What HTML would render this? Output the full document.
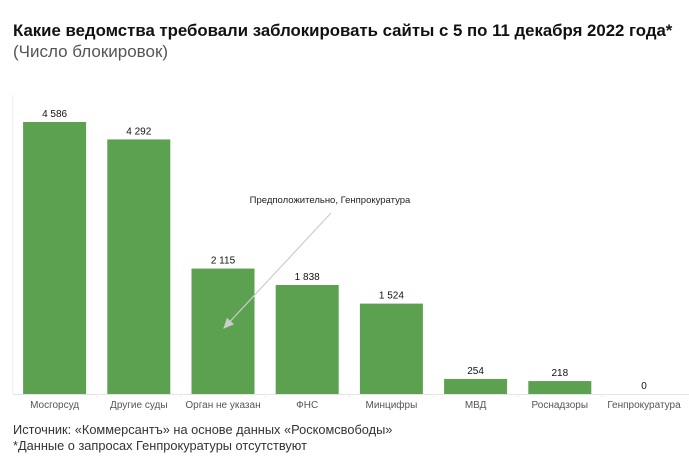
<!DOCTYPE html>
<html><head><meta charset="utf-8"><style>
body{margin:0;width:689px;height:462px;background:#fff;font-family:"Liberation Sans",sans-serif;overflow:hidden;position:relative}
.t{position:absolute;left:13px;white-space:nowrap}
</style></head><body>
<div class="t" style="top:21px;font-size:16.8px;font-weight:bold;color:#111">Какие ведомства требовали заблокировать сайты с 5 по 11 декабря 2022 года*</div>
<div class="t" style="top:42px;font-size:17px;color:#555">(Число блокировок)</div>
<svg id="c" width="689" height="462" style="position:absolute;left:0;top:0">
<defs><marker id="ah" markerWidth="10" markerHeight="10" refX="8" refY="5" orient="auto"><path d="M0,1 L9,5 L0,9 z" fill="#ccc"/></marker></defs>
</svg>
<div class="t" style="top:422px;font-size:12.8px;color:#333">Источник: «Коммерсантъ» на основе данных «Роскомсвободы»</div>
<div class="t" style="top:438px;font-size:12.8px;color:#333">*Данные о запросах Генпрокуратуры отсутствуют</div>
<script>
const categories=["Мосгорсуд","Другие суды","Орган не указан","ФНС","Минцифры","МВД","Роснадзоры","Генпрокуратура"];
const values=[4586,4292,2115,1838,1524,254,218,0];
const valueLabels=["4 586","4 292","2 115","1 838","1 524","254","218","0"];
const svg=document.getElementById('c');const NS='http://www.w3.org/2000/svg';
const x0=12.7,step=84.2,bw=63,off=10.4,base=394,yTop=122,maxV=4586;
const xs=i=>x0+i*step+off;const ys=v=>base-(v/maxV)*(base-yTop);
function mk(t,a){const e=document.createElementNS(NS,t);for(const k in a)e.setAttribute(k,a[k]);svg.appendChild(e);return e;}
let ax=mk('line',{x1:x0,y1:95,x2:x0,y2:base,stroke:'#eee'});


let bx=mk('line',{x1:x0,y1:base+0.5,x2:689,y2:base+0.5,stroke:'#e4e4e4'});


categories.forEach((c,i)=>{
 const y=ys(values[i]);
 const r=mk('rect',{x:xs(i),y:y,width:bw,height:base-y,fill:'#5ba150'});
 
 
 const v=mk('text',{x:xs(i)+bw/2,y:y-5,'text-anchor':'middle','font-size':10,fill:'#111'});v.textContent=valueLabels[i];
 
 
 const l=mk('text',{x:xs(i)+bw/2,y:408,'text-anchor':'middle','font-size':10,fill:'#555'});l.textContent=c;
 
 
 if(i>0){const tk=mk('line',{x1:x0+i*step,y1:base,x2:x0+i*step,y2:base+4,stroke:'#eee'});}
});
const a=mk('line',{x1:331,y1:213,x2:224,y2:328,stroke:'#ccc','stroke-width':1.2,'marker-end':'url(#ah)'});


const at=mk('text',{x:330,y:203,'text-anchor':'middle','font-size':9.5,fill:'#222'});at.textContent='Предположительно, Генпрокуратура';


</script>
</body></html>
